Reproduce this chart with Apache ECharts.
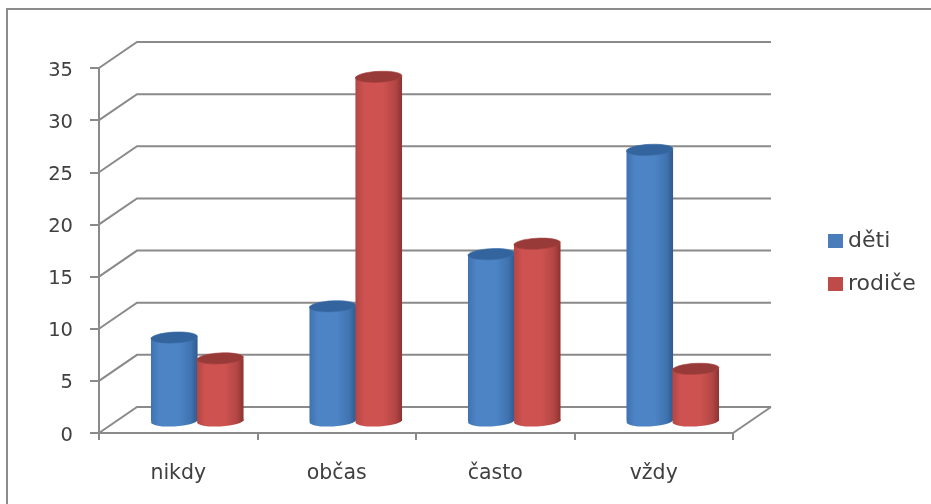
<!DOCTYPE html>
<html>
<head>
<meta charset="utf-8">
<style>html,body{margin:0;padding:0;background:#fff}#c{width:931px;height:504px}</style>
<script src="https://cdn.jsdelivr.net/npm/echarts@6/dist/echarts.min.js"></script>
</head>
<body>
<div id="c"></div>
<script>
// Survey answers by frequency, children against parents
const categories = ['nikdy', 'občas', 'často', 'vždy'];
const detiValues = [8, 11, 16, 26];
const rodiceValues = [6, 33, 17, 5];
const wallTicks = [0, 5, 10, 15, 20, 25, 30, 35];

// Oblique projection of the chart box
const DEPTH_X = 38, DEPTH_Y = -26;
const CYL_RISE = -12;
const FONT = '"DejaVu Sans", sans-serif';
const TEXT = '#404040', RULE = '#8a8a8a';

function shade(edge, mid) {
  return { type: 'linear', x: 0, y: 0, x2: 1, y2: 0, colorStops: [
    { offset: 0, color: mid[0] }, { offset: 0.18, color: mid[1] },
    { offset: 0.6, color: mid[1] }, { offset: 0.86, color: mid[0] },
    { offset: 1, color: edge } ] };
}

// One cylinder per datum, standing on the middle of the floor depth
function cylinder(offset, side, top, rimColor) {
  return function (params, api) {
    const band = api.size([1, 0])[0];
    const i = api.value(0);
    const head = api.coord([i, api.value(1)]);
    const foot = api.coord([i, 0]);
    const cx = head[0] + DEPTH_X / 2 + offset * band;
    const yTop = head[1] + CYL_RISE;
    const yBase = foot[1] + CYL_RISE;
    const rx = band * 0.147, ry = 5.5;
    return { type: 'group', children: [
      { type: 'ellipse', x: cx, y: yBase, rotation: 0.05, shape: { cx: 0, cy: 0, rx: rx, ry: ry }, style: { fill: side } },
      { type: 'rect', shape: { x: cx - rx, y: yTop, width: rx * 2, height: yBase - yTop }, style: { fill: side } },
      { type: 'ellipse', x: cx, y: yTop, rotation: 0.05, shape: { cx: 0, cy: 0, rx: rx, ry: ry }, style: { fill: top, stroke: rimColor, lineWidth: 0.6 } }
    ] };
  };
}

// Wall rule for a tick: up the side wall, then across the back wall
function wallRule(params, api) {
  const cs = params.coordSys;
  const y = api.coord([0, api.value(0)])[1];
  return { type: 'polyline', silent: true,
    shape: { points: [[cs.x, y], [cs.x + DEPTH_X, y + DEPTH_Y], [cs.x + cs.width + DEPTH_X, y + DEPTH_Y]] },
    style: { stroke: RULE, lineWidth: 2, fill: null } };
}

// Right-hand edge of the floor
function floorEdge(params, api) {
  const cs = params.coordSys;
  const y = api.coord([0, 0])[1], x = cs.x + cs.width;
  return { type: 'line', silent: true,
    shape: { x1: x, y1: y, x2: x + DEPTH_X, y2: y + DEPTH_Y },
    style: { stroke: RULE, lineWidth: 2 } };
}

const chart = echarts.init(document.getElementById('c'), null, { renderer: 'canvas' });
chart.setOption({
  backgroundColor: '#fff',
  animation: false,
  graphic: [{ type: 'rect', silent: true, shape: { x: 7, y: 9, width: 1000, height: 600 },
    style: { fill: null, stroke: '#8c8c8c', lineWidth: 2 } }],
  grid: { left: 99, right: 198, top: 68, bottom: 71 },
  legend: {
    orient: 'vertical', left: 823, top: 225, itemWidth: 15, itemHeight: 14, itemGap: 21,
    icon: 'rect', data: ['děti', 'rodiče'],
    textStyle: { fontFamily: FONT, fontSize: 22, color: TEXT }
  },
  xAxis: {
    type: 'category', data: categories,
    axisLine: { lineStyle: { color: RULE, width: 2 } },
    axisTick: { show: true, length: 7, lineStyle: { color: RULE, width: 2 } },
    axisLabel: { margin: 30, fontFamily: FONT, fontSize: 20.5, color: TEXT }
  },
  yAxis: {
    type: 'value', min: 0, max: 35, interval: 5,
    splitLine: { show: false },
    axisLine: { show: true, lineStyle: { color: RULE, width: 2 } },
    axisTick: { show: true, length: 9, lineStyle: { color: RULE, width: 2 } },
    axisLabel: { margin: 26, fontFamily: FONT, fontSize: 19.5, color: TEXT, verticalAlign: 'top', lineHeight: 5 }
  },
  series: [
    { type: 'custom', name: 'wall', data: wallTicks.map(v => [v]), renderItem: wallRule, encode: { y: 0 }, z: 1, silent: true },
    { type: 'custom', name: 'floor', data: [[0]], renderItem: floorEdge, z: 1, silent: true },
    { type: 'custom', name: 'děti', z: 2, itemStyle: { color: '#4a7ebb' },
      data: detiValues.map((v, i) => [i, v]), encode: { x: 0, y: 1 },
      renderItem: cylinder(-0.145, shade('#2f5a8e', ['#3f73b0', '#4d84c6']), '#33649e', '#3a6ea8') },
    { type: 'custom', name: 'rodiče', z: 3, itemStyle: { color: '#be4b48' },
      data: rodiceValues.map((v, i) => [i, v]), encode: { x: 0, y: 1 },
      renderItem: cylinder(0.145, shade('#8c3331', ['#b24644', '#cd5250']), '#983a38', '#a84341') }
  ]
});
</script>
</body>
</html>
